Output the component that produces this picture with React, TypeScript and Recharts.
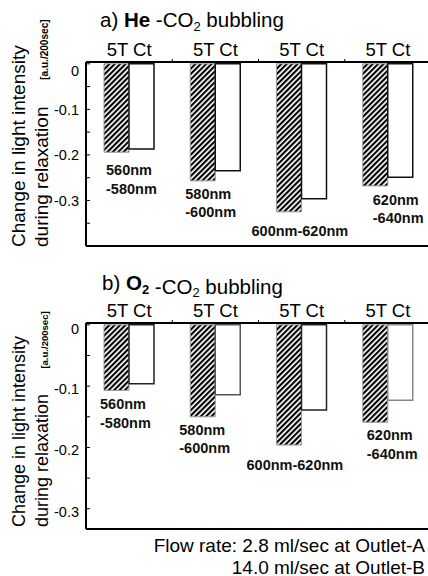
import React from 'react';
import { BarChart, Bar, XAxis, YAxis, ReferenceLine, LabelList, Cell } from 'recharts';

// ---- data ----
const bands = ['560-580nm', '580-600nm', '600-620nm', '620-640nm'];
const xTickLabel = '5T Ct';
const bandTextLine1 = ['560nm', '580nm', '600nm-620nm', '620nm'];
const bandTextLine2 = ['-580nm', '-600nm', '', '-640nm'];

const he5T = [-0.194, -0.257, -0.325, -0.268];
const heCt = [-0.187, -0.235, -0.296, -0.249];
const o25T = [-0.107, -0.150, -0.196, -0.159];
const o2Ct = [-0.096, -0.114, -0.139, -0.123];

const heTicks = [0, -0.05, -0.1, -0.15, -0.2, -0.25, -0.3, -0.35];
const o2Ticks = [0, -0.05, -0.1, -0.15, -0.2, -0.25, -0.3];

const yTitleLine1 = 'Change in light intensity';
const yTitleLine2 = 'during relaxation';
const yTitleUnit = '[a.u./200sec]';
const footer1 = 'Flow rate: 2.8 ml/sec at Outlet-A';
const footer2 = '14.0 ml/sec at Outlet-B';

// ---- layout / style constants ----
const FONT = '"Liberation Sans", Arial, Helvetica, sans-serif';
const heLabelOffsets = [[2, 23], [-5, 18], [-25, 24], [10, 19]];
const o2LabelOffsets = [[-4, 19], [-11, 18], [-30, 25], [4, 18]];
const o2CtStrokes = ['#222', '#555', '#222', '#888'];

const heData = bands.map((b, i) => ({ band: b, t5: he5T[i], ct: heCt[i] }));
const o2Data = bands.map((b, i) => ({ band: b, t5: o25T[i], ct: o2Ct[i] }));

function YTick(props: any) {
  const { x, y, payload, labelShift, zeroShift } = props;
  const v = payload.value as number;
  const major = Math.abs(Math.round(v * 10) - v * 10) < 1e-6;
  return (
    <g>
      <line x1={x} x2={x + 4} y1={y} y2={y} stroke="#000" strokeWidth={1} />
      {major && (
        <text
          x={x - 7}
          y={y + (v === 0 ? zeroShift : labelShift)}
          textAnchor="end"
          dominantBaseline="central"
          fontSize={14.5}
          fontFamily={FONT}
          fill="#000"
        >
          {v === 0 ? '0' : v.toFixed(1)}
        </text>
      )}
    </g>
  );
}

function XTick(props: any) {
  const { x, y, payload, index } = props;
  const half = payload && typeof payload.offset === 'number' && payload.offset > 0 ? payload.offset : 43.125;
  return (
    <g>
      <text x={x} y={y - 6} textAnchor="middle" fontSize={18.5} fontFamily={FONT} fill="#000">
        {xTickLabel}
      </text>
      {index < bands.length - 1 && (
        <line x1={x + half} x2={x + half} y1={y} y2={y - 3} stroke="#000" strokeWidth={1} />
      )}
    </g>
  );
}

function YTitle(props: any) {
  const { viewBox, fs, startShift } = props;
  const vx = viewBox && typeof viewBox.x === 'number' ? viewBox.x : 0;
  const bottom = viewBox.y + viewBox.height + startShift;
  const unitStart = bottom - 8.8 * fs;
  return (
    <g fontFamily={FONT} fill="#000">
      <text transform={`translate(${vx + 25}, ${bottom}) rotate(-90)`} fontSize={fs}>
        {yTitleLine1}
      </text>
      <text transform={`translate(${vx + 47.5}, ${bottom}) rotate(-90)`} fontSize={fs}>
        {yTitleLine2}
      </text>
      <text
        transform={`translate(${vx + 47.5}, ${unitStart}) rotate(-90)`}
        fontSize={fs * 0.53}
        fontWeight="bold"
      >
        {yTitleUnit}
      </text>
    </g>
  );
}

function PanelTitle(props: any) {
  const { viewBox, variant, tx, baseline } = props;
  const vy = viewBox && typeof viewBox.y === 'number' ? viewBox.y : 0;
  const y = vy + baseline;
  return (
    <text x={tx} y={y} fontSize={20.5} fontFamily={FONT} fill="#000">
      <tspan>{variant === 'he' ? 'a) ' : 'b) '}</tspan>
      {variant === 'he' ? (
        <tspan fontWeight="bold">He</tspan>
      ) : (
        <>
          <tspan fontWeight="bold">O</tspan>
          <tspan fontWeight="bold" fontSize={13} dy={3.5}>2</tspan>
          <tspan dy={-3.5}>{''}</tspan>
        </>
      )}
      <tspan>{' -CO'}</tspan>
      <tspan fontSize={13} dy={3.5}>2</tspan>
      <tspan dy={-3.5}>{' bubbling'}</tspan>
    </text>
  );
}

function makeBandLabel(offsets: number[][]) {
  return (p: any) => {
    const vb = p.viewBox && typeof p.viewBox.x === 'number' ? p.viewBox : p;
    const x = Number(vb.x);
    const y = Number(vb.y);
    const h = Number(vb.height);
    const idx = Number(p.index);
    if (!Number.isFinite(x) || !Number.isFinite(idx)) return null;
    const bottom = Math.max(y, y + h);
    const [dx, dy] = offsets[idx] || [0, 20];
    return (
      <text
        key={`bl-${idx}`}
        x={x + dx}
        y={bottom + dy}
        fontSize={14.5}
        fontWeight="bold"
        fontFamily={FONT}
        fill="#111"
      >
        <tspan x={x + dx}>{bandTextLine1[idx]}</tspan>
        {bandTextLine2[idx] && (
          <tspan x={x + dx} dy={18.5}>
            {bandTextLine2[idx]}
          </tspan>
        )}
      </text>
    );
  };
}

function HatchDefs({ id }: { id: string }) {
  return (
    <defs>
      <pattern id={id} patternUnits="userSpaceOnUse" width={3.8} height={3.8} patternTransform="rotate(45)">
        <rect x={0} y={0} width={3.8} height={3.8} fill="#fff" />
        <rect x={0} y={0} width={2.1} height={3.8} fill="#000" />
      </pattern>
    </defs>
  );
}

export default function App() {
  return (
    <div
      style={{
        position: 'absolute',
        left: 0,
        top: 0,
        width: 428,
        height: 576,
        overflow: 'hidden',
        background: '#fff',
        fontFamily: FONT,
      }}
    >
      <div style={{ position: 'absolute', left: 0, top: 0 }}>
        <BarChart
          width={431}
          height={250}
          data={heData}
          margin={{ top: 0, right: 0, left: 0, bottom: 4 }}
          barGap={0}
          barSize={25}
        >
          <HatchDefs id="hatchHe" />
          <XAxis
            dataKey="band"
            orientation="top"
            height={62}
            tickSize={0}
            tickMargin={0}
            interval={0}
            tick={<XTick />}
            axisLine={{ stroke: '#000', strokeWidth: 2 }}
            label={<PanelTitle variant="he" tx={100} baseline={27} />}
          />
          <YAxis
            type="number"
            domain={[-0.4, 0.004]}
            allowDataOverflow
            ticks={heTicks}
            interval={0}
            width={86}
            tickSize={0}
            tickMargin={0}
            tick={<YTick labelShift={0.5} zeroShift={7} />}
            axisLine={{ stroke: '#000', strokeWidth: 2 }}
            label={<YTitle fs={19} startShift={1} />}
          />
          <ReferenceLine y={-0.4} stroke="#000" strokeWidth={2} />
          <Bar dataKey="t5" fill="url(#hatchHe)" stroke="#999" strokeWidth={1} isAnimationActive={false}>
            <LabelList dataKey="t5" content={makeBandLabel(heLabelOffsets)} />
          </Bar>
          <Bar dataKey="ct" fill="#fff" stroke="#111" strokeWidth={1.5} isAnimationActive={false} />
        </BarChart>
      </div>

      <div style={{ position: 'absolute', left: 0, top: 261 }}>
        <BarChart
          width={431}
          height={272}
          data={o2Data}
          margin={{ top: 0, right: 0, left: 0, bottom: 4 }}
          barGap={0}
          barSize={25}
        >
          <HatchDefs id="hatchO2" />
          <XAxis
            dataKey="band"
            orientation="top"
            height={62}
            tickSize={0}
            tickMargin={0}
            interval={0}
            tick={<XTick />}
            axisLine={{ stroke: '#000', strokeWidth: 2 }}
            label={<PanelTitle variant="o2" tx={102} baseline={29} />}
          />
          <YAxis
            type="number"
            domain={[-0.333, 0.003]}
            allowDataOverflow
            ticks={o2Ticks}
            interval={0}
            width={86}
            tickSize={0}
            tickMargin={0}
            tick={<YTick labelShift={3} zeroShift={4} />}
            axisLine={{ stroke: '#000', strokeWidth: 2 }}
            label={<YTitle fs={18} startShift={-2} />}
          />
          <ReferenceLine y={-0.333} stroke="#000" strokeWidth={2} />
          <Bar dataKey="t5" fill="url(#hatchO2)" stroke="#999" strokeWidth={1} isAnimationActive={false}>
            <LabelList dataKey="t5" content={makeBandLabel(o2LabelOffsets)} />
          </Bar>
          <Bar dataKey="ct" fill="#fff" stroke="#111" strokeWidth={1.5} isAnimationActive={false}>
            {o2Data.map((d, i) => (
              <Cell key={d.band} stroke={o2CtStrokes[i]} />
            ))}
          </Bar>
        </BarChart>
      </div>

      <svg
        width={428}
        height={576}
        style={{ position: 'absolute', left: 0, top: 0, pointerEvents: 'none' }}
      >
        <text x={425} y={551.5} textAnchor="end" fontSize={19} fontFamily={FONT} fill="#000">
          {footer1}
        </text>
        <text x={425} y={573.5} textAnchor="end" fontSize={19} fontFamily={FONT} fill="#000">
          {footer2}
        </text>
      </svg>
    </div>
  );
}
